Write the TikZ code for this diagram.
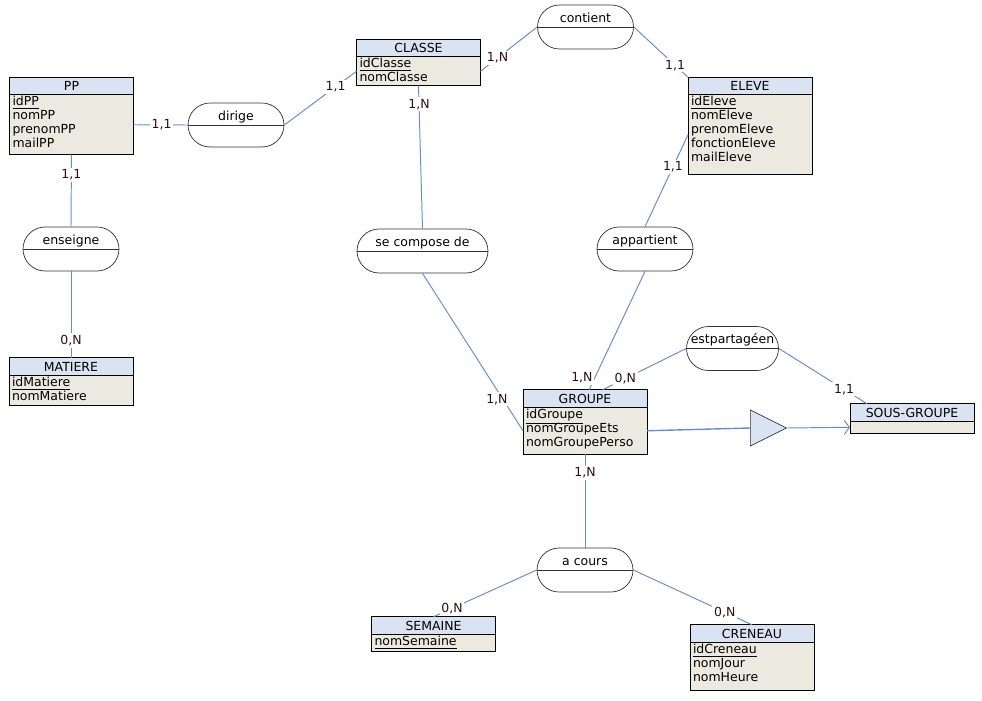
\documentclass[tikz,border=0pt]{standalone}
\usepackage{fontspec}
\setmainfont{DejaVu Sans}
\usepackage{tikz}
\usetikzlibrary{positioning, shapes.misc, shapes.geometric, arrows.meta}

\definecolor{enthead}{RGB}{218,227,242}
\definecolor{entbody}{RGB}{236,233,224}
\definecolor{linkblue}{RGB}{104,142,200}
\definecolor{assocline}{RGB}{50,50,50}
\definecolor{cardtext}{RGB}{45,15,20}

\newcommand{\erfont}{\fontsize{7.1}{7.95}\selectfont\lineskiplimit=-10pt}

\tikzset{
  entity/.style={draw, fill=enthead, minimum width=2.48cm, minimum height=0.35cm, inner sep=0pt, outer sep=0pt},
  attrs/.style={draw, fill=entbody, text width=2.36cm, inner xsep=0.06cm, inner ysep=0pt, outer sep=0pt,
    text height=0.22cm, align=left, anchor=north},
  assoc/.style={draw=assocline, fill=white, rounded rectangle, minimum width=1.92cm, minimum height=0.88cm,
    inner sep=0pt, text height=0.16cm, text depth=0.36cm,
    path picture={\draw[assocline] (path picture bounding box.west) -- (path picture bounding box.east);}},
  link/.style={draw=linkblue, line width=0.55pt},
  card/.style={fill=white, inner sep=1pt, text=cardtext},
}

\begin{document}
\begin{tikzpicture}[x=0.02cm, y=-0.02cm, font=\erfont, >={Straight Barb[length=3pt,width=8pt]}]
    \useasboundingbox (0,0) rectangle (982,700);

    % entites
    \node[entity] (pp) at (71.5,86) {PP};
    \node[attrs, text depth=0.98cm, below=0pt of pp] (pp-att) {\underline{idPP}\\nomPP\\prenomPP\\mailPP};
    \node[entity] (classe) at (418.5,48) {CLASSE};
    \node[attrs, text depth=0.36cm, below=0pt of classe] (classe-att) {\underline{idClasse}\\nomClasse};
    \node[entity] (eleve) at (750,86) {ELEVE};
    \node[attrs, text depth=1.38cm, below=0pt of eleve] (eleve-att) {\underline{idEleve}\\nomEleve\\prenomEleve\\fonctionEleve\\mailEleve};
    \node[entity] (matiere) at (71,366.5) {MATIERE};
    \node[attrs, text depth=0.38cm, below=0pt of matiere] (matiere-att) {\underline{idMatiere}\\nomMatiere};
    \node[entity] (groupe) at (585,398.5) {GROUPE};
    \node[attrs, text depth=0.72cm, below=0pt of groupe] (groupe-att) {\underline{idGroupe}\\nomGroupeEts\\nomGroupePerso};
    \node[entity] (sousgroupe) at (912,412.5) {SOUS-GROUPE};
    \node[attrs, text depth=0.02cm, below=0pt of sousgroupe] (sousgroupe-att) {};
    \node[entity] (semaine) at (433.5,625.5) {SEMAINE};
    \node[attrs, text depth=0.12cm, below=0pt of semaine] (semaine-att) {\underline{nomSemaine}};
    \node[entity] (creneau) at (752,633.5) {CRENEAU};
    \node[attrs, text depth=0.74cm, below=0pt of creneau] (creneau-att) {\underline{idCreneau}\\nomJour\\nomHeure};

    % associations
    \node[assoc] (dirige) at (236,125) {dirige};
    \node[assoc] (contient) at (585.5,27) {contient};
    \node[assoc] (enseigne) at (71,249) {enseigne};
    \node[assoc, minimum width=2.62cm] (secompose) at (422.5,251) {se compose de};
    \node[assoc] (appartient) at (645,249) {appartient};
    \node[assoc, minimum width=1.78cm] (estpartage) at (732.5,348.5) {estpartagéen};
    \node[assoc] (acours) at (585,570) {a cours};

    % heritage
    \node[isosceles triangle, isosceles triangle apex angle=53, isosceles triangle stretches,
          minimum width=0.72cm, minimum height=0.72cm, inner sep=0pt,
          draw=assocline, fill=enthead, anchor=lower side] (isa) at (750,428) {};

    % liens
    \draw[link] (pp-att.east) -- node[card, pos=.52] {1,1} (dirige.west);
    \draw[link] (dirige.east) -- node[card, pos=.71] {1,1} (classe-att.west);
    \draw[link] (classe-att.east) -- node[card, pos=.3] {1,N} (contient.west);
    \draw[link] (contient.east) -- node[card, pos=.76] {1,1} (eleve.north west);
    \draw[link] (classe-att.south) -- node[card, pos=.13] {1,N} (secompose.north);
    \draw[link] (secompose.south) -- node[card, pos=.8, xshift=-0.12cm] {1,N} (groupe-att.west);
    \draw[link] (appartient.north) -- node[card, pos=.65] {1,1} (eleve-att.west);
    \draw[link] (appartient.south) -- node[card, pos=.9, left] {1,N} (groupe);
    \draw[link] (estpartage.west) -- node[card, pos=.73] {0,N} (groupe);
    \draw[link] (estpartage.east) -- node[card, pos=.74] {1,1} (sousgroupe.169);
    \draw[link] (pp-att.south) -- node[card, pos=.28] {1,1} (enseigne.north);
    \draw[link] (enseigne.south) -- node[card, pos=.8] {0,N} (matiere.north);
    \draw[link] (groupe-att.south) -- node[card, pos=.2] {1,N} (acours.north);
    \draw[link] (acours.west) -- node[card, pos=.82] {0,N} (semaine.north);
    \draw[link] (acours.east) -- node[card, pos=.77] {0,N} (creneau.north);
    \draw[link, line width=0.8pt] (groupe-att.east) -- (isa.lower side);
    \draw[link, ->] (isa.apex) -- (sousgroupe-att.west);
\end{tikzpicture}
\end{document}
